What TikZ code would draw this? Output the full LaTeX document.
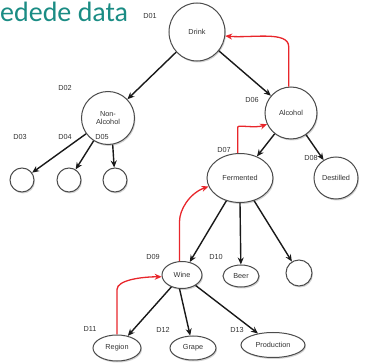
\documentclass[tikz,border=0pt]{standalone}
\usepackage{fontspec}
\setmainfont{Liberation Sans}
\newfontfamily\titlefont{Carlito}
\usetikzlibrary{arrows.meta,shadows,shapes.geometric}
\definecolor{teal1}{HTML}{1A8C84}
\definecolor{redarr}{HTML}{E8262B}
\begin{document}
\begin{tikzpicture}[x=1pt,y=-1pt,
  nd/.style={draw=black!70,line width=1pt,fill=white,ellipse,inner sep=0pt,
    drop shadow={shadow xshift=1pt,shadow yshift=-1.5pt,opacity=0.35},font=\fontsize{7.3}{8}\selectfont,text=black!80},
  lbl/.style={font=\fontsize{7.3}{8}\selectfont,text=black!80},
  arr/.style={-{Stealth[length=7pt,width=6pt]},line width=1.4pt,black!90},
  redline/.style={-{Stealth[length=7pt,width=6pt]},line width=1.3pt,redarr,rounded corners=10pt}]
\useasboundingbox (0,0) rectangle (368,364);
\node[anchor=west,text=teal1,font=\titlefont\fontsize{28}{30}\selectfont,inner sep=0pt] (title) at (0,12) {edede data};
\tikzset{el/.style args={#1/#2}{nd,minimum width=#1pt,minimum height=#2pt}}
\node[el=56/58] (d01) at (197,32) {Drink};
\node[el=53/53,align=center] (d02) at (108,118) {Non-\\Alcohol};
\node[el=52/52] (d06) at (291,113) {Alcohol};
\node[el=24/24] (d03) at (22,180) {};
\node[el=24/24] (d04) at (69,180) {};
\node[el=24/24] (d05) at (115,180) {};
\node[el=66/49] (d07) at (240,178) {Fermented};
\node[el=44/42] (d08) at (336,178) {Destilled};
\node[el=40/27] (d09) at (182,275) {Wine};
\node[el=36/22] (d10) at (241,276) {Beer};
\node[el=26/26] (d14) at (299,273) {};
\node[el=48/26] (d11) at (117,348) {Region};
\node[el=46/24] (d12) at (193,348) {Grape};
\node[el=64/25] (d13) at (273,345) {Production};
\node[lbl] (l01) at (150,16) {D01};
\node[lbl] (l02) at (65,88) {D02};
\node[lbl] (l03) at (20,137) {D03};
\node[lbl] (l04) at (65,137) {D04};
\node[lbl] (l05) at (102,137) {D05};
\node[lbl] (l06) at (252,100) {D06};
\node[lbl] (l07) at (224,150) {D07};
\node[lbl] (l08) at (311,158) {D08};
\node[lbl] (l09) at (153,257) {D09};
\node[lbl] (l10) at (216,257) {D10};
\node[lbl] (l11) at (90,329) {D11};
\node[lbl] (l12) at (163,330) {D12};
\node[lbl] (l13) at (237,330) {D13};
\draw[arr] (d01) -- (d02);
\draw[arr] (d01) -- (d06);
\draw[arr] (d02) -- (d03);
\draw[arr] (d02) -- (d04);
\draw[arr] (d02.-80) -- (d05);
\draw[arr] (d06) -- (d07);
\draw[arr] (d06) -- (d08);
\draw[arr] (d07) -- (d09);
\draw[arr] (d07.-90) -- (d10);
\draw[arr] (d07) -- (d14);
\draw[arr] (d09) -- (d11);
\draw[arr] (d09.-100) -- (d12);
\draw[arr] (d09) -- (d13);
\draw[redline] (d06.95) -- ++(0,-30) to[out=90,in=-5] (d01.-8);
\draw[redline] (d07.95) -- ++(0,-16) to[out=90,in=200] (d06.205);
\draw[redline] (d09.100) -- ++(0,-30) to[out=90,in=200] (d07.195);
\draw[redline] (d11.90) -- ++(0,-35) to[out=90,in=180] (d09.185);
\end{tikzpicture}
\end{document}
